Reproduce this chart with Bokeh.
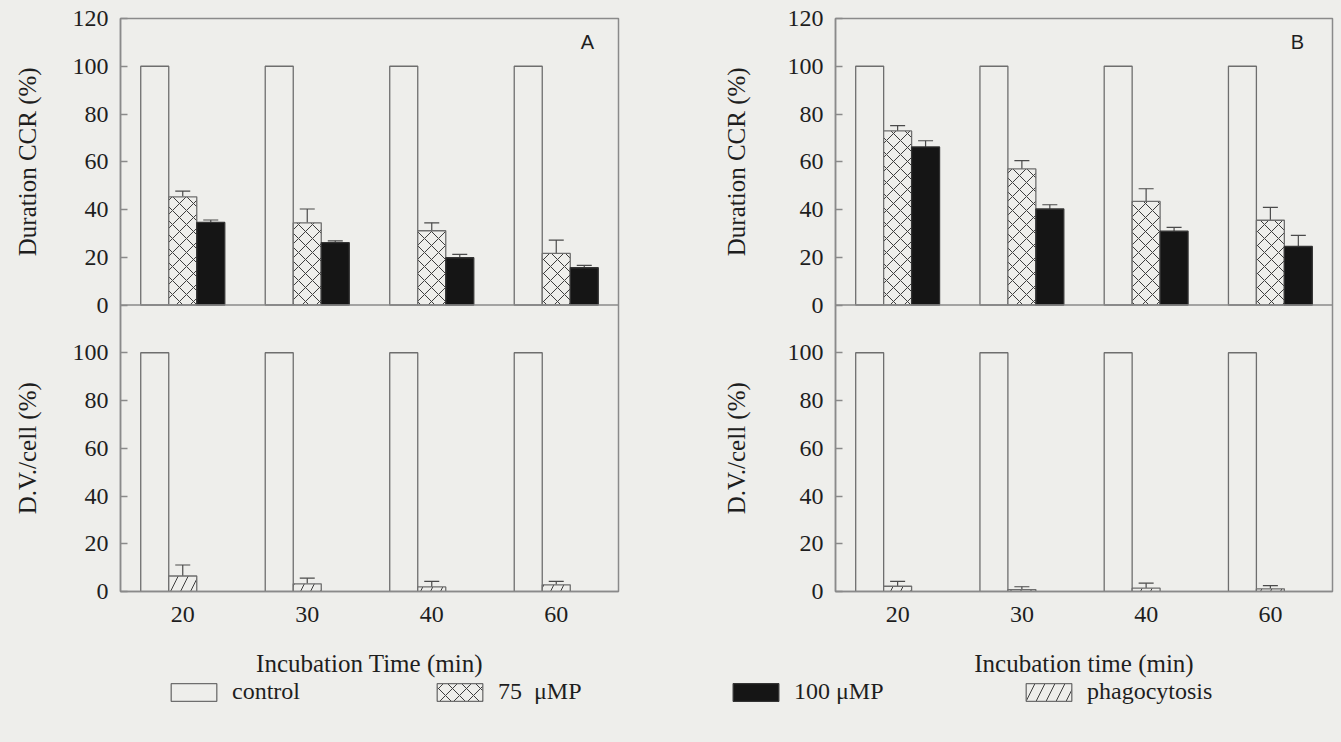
import math
from bokeh.plotting import figure
from bokeh.layouts import row, column
from bokeh.models import (FactorRange, Range1d, ColumnDataSource, Whisker, TeeHead,
                          Label, FixedTicker, Legend, LegendItem, Span)
from bokeh.transform import dodge
from bokeh.embed import file_html
from bokeh.resources import INLINE

# ---------------- data ----------------
times = ["20", "30", "40", "60"]
y_tick_values = [0, 20, 40, 60, 80, 100, 120]

# Panel A (Duration CCR, %)
a_control = [100, 100, 100, 100]
a_mp75 = [45.3, 34.4, 31.1, 21.6]
a_mp75_err = [2.4, 5.8, 3.3, 5.6]
a_mp100 = [34.6, 26.1, 19.8, 15.6]
a_mp100_err = [1.0, 0.8, 1.4, 1.0]
# Panel A (D.V./cell, %)
a_dv_control = [100, 100, 100, 100]
a_phago = [6.5, 3.2, 1.9, 2.8]
a_phago_err = [4.6, 2.4, 2.3, 1.4]

# Panel B (Duration CCR, %)
b_control = [100, 100, 100, 100]
b_mp75 = [72.9, 57.0, 43.4, 35.5]
b_mp75_err = [2.2, 3.5, 5.3, 5.4]
b_mp100 = [66.2, 40.2, 30.9, 24.5]
b_mp100_err = [2.6, 1.8, 1.6, 4.7]
# Panel B (D.V./cell, %)
b_dv_control = [100, 100, 100, 100]
b_phago = [2.2, 0.8, 1.4, 1.1]
b_phago_err = [2.0, 1.2, 2.1, 1.4]

legend_labels = ["control", "75\u00a0\u00a0\u03bcMP", "100\u00a0\u03bcMP", "phagocytosis"]

# ---------------- style ----------------
BG = "#eeeeeb"
TXT = "#1e1e1e"
EDGE = "#8a8a8a"
BAR_EDGE = "#6e6e6e"
ERR = "#4a4a4a"
BLACK = "#151515"
SERIF = "Liberation Serif"
SANS = "Liberation Sans"
TICK_FS = "24px"
TITLE_FS = "25px"
BW = 0.225
MAIN_H = 679
TOP_B = 18
FRAME_H = 574

STY_CTRL = dict(fill_color=BG, line_color=BAR_EDGE, line_width=1.3)
STY_75 = dict(fill_color=BG, line_color=BAR_EDGE, line_width=1.3,
              hatch_pattern="x", hatch_scale=14, hatch_color="#3c3c3c", hatch_weight=1)
STY_100 = dict(fill_color=BLACK, line_color="#333333", line_width=1.3)
STY_PH = dict(fill_color=BG, line_color=BAR_EDGE, line_width=1.3,
              hatch_pattern="/", hatch_scale=20, hatch_color="#3c3c3c", hatch_weight=1)


def make_sources(ctrl, mp75, mp75_err, mp100, mp100_err, dv_ctrl, ph, ph_err):
    src_top = ColumnDataSource(dict(
        t=times, ctrl=ctrl, mp75=mp75,
        mp75_up=[v + e for v, e in zip(mp75, mp75_err)],
        mp100=mp100,
        mp100_up=[v + e for v, e in zip(mp100, mp100_err)]))
    src_bot = ColumnDataSource(dict(
        t=times, ctrl=dv_ctrl, ph=ph,
        ph_up=[v + e for v, e in zip(ph, ph_err)]))
    return src_top, src_bot


srcA_top, srcA_bot = make_sources(a_control, a_mp75, a_mp75_err, a_mp100, a_mp100_err,
                                  a_dv_control, a_phago, a_phago_err)
srcB_top, srcB_bot = make_sources(b_control, b_mp75, b_mp75_err, b_mp100, b_mp100_err,
                                  b_dv_control, b_phago, b_phago_err)


def add_err(p, src, base_off, low, up, rng):
    w = Whisker(base=dodge("t", base_off, range=p.x_range), lower=low, upper=up,
                source=src, y_range_name=rng, line_color=ERR, line_width=1.2,
                upper_head=TeeHead(size=15, line_color=ERR, line_width=1.2),
                lower_head=None)
    p.add_layout(w)


def make_main(width, bl, br, src_top, src_bot, letter, letter_x, xtitle):
    p = figure(width=width, height=MAIN_H, x_range=FactorRange(factors=times),
               y_range=Range1d(0, 240), output_backend="svg", toolbar_location=None,
               min_border_left=bl, min_border_right=br, min_border_top=TOP_B,
               min_border_bottom=MAIN_H - TOP_B - FRAME_H,
               background_fill_color=BG, border_fill_color=BG,
               outline_line_color=EDGE, outline_line_width=1.5, title=None)
    p.extra_y_ranges = {"top": Range1d(-120, 120)}
    p.xgrid.visible = False
    p.ygrid.visible = False

    # upper panel (Duration CCR)
    p.vbar(x=dodge("t", -BW, range=p.x_range), top="ctrl", bottom=0, width=BW,
           source=src_top, y_range_name="top", **STY_CTRL)
    p.vbar(x=dodge("t", 0, range=p.x_range), top="mp75", bottom=0, width=BW,
           source=src_top, y_range_name="top", **STY_75)
    p.vbar(x=dodge("t", BW, range=p.x_range), top="mp100", bottom=0, width=BW,
           source=src_top, y_range_name="top", **STY_100)
    add_err(p, src_top, 0, "mp75", "mp75_up", "top")
    add_err(p, src_top, BW, "mp100", "mp100_up", "top")

    # lower panel (D.V./cell)
    p.vbar(x=dodge("t", -BW, range=p.x_range), top="ctrl", bottom=0, width=BW,
           source=src_bot, **STY_CTRL)
    p.vbar(x=dodge("t", 0, range=p.x_range), top="ph", bottom=0, width=BW,
           source=src_bot, **STY_PH)
    add_err(p, src_bot, 0, "ph", "ph_up", "default")

    p.add_layout(Span(location=120, dimension="width", line_color=EDGE, line_width=1.5))

    # y axis: lower panel 0..100, upper panel 0..120 (shifted by 120)
    ticks = list(y_tick_values[:-1]) + [v + 120 for v in y_tick_values]
    ya = p.yaxis[0]
    ya.ticker = FixedTicker(ticks=ticks)
    ya.major_label_overrides = {v + 120: str(v) for v in y_tick_values}
    ya.major_tick_in = 7
    ya.major_tick_out = 0
    ya.minor_tick_in = 0
    ya.minor_tick_out = 0
    ya.axis_line_color = EDGE
    ya.axis_line_width = 1.5
    ya.major_tick_line_color = EDGE
    ya.major_tick_line_width = 1.3
    ya.major_label_standoff = 12
    ya.major_label_text_font = SERIF
    ya.major_label_text_font_size = TICK_FS
    ya.major_label_text_color = TXT

    xa = p.xaxis[0]
    xa.major_tick_in = 0
    xa.major_tick_out = 0
    xa.axis_line_color = EDGE
    xa.axis_line_width = 1.5
    xa.major_label_standoff = 15
    xa.major_label_text_font = SERIF
    xa.major_label_text_font_size = TICK_FS
    xa.major_label_text_color = TXT
    xa.axis_label = xtitle
    xa.axis_label_standoff = 25
    xa.axis_label_text_font = SERIF
    xa.axis_label_text_font_size = TITLE_FS
    xa.axis_label_text_font_style = "normal"
    xa.axis_label_text_color = TXT

    p.add_layout(Label(x=letter_x, y=550, x_units="screen", y_units="screen",
                       text=letter, text_align="center", text_baseline="middle",
                       text_font=SANS, text_font_size="20px", text_color=TXT))
    return p


def make_ytitles(width, xpos):
    f = figure(width=width, height=MAIN_H, x_range=Range1d(0, 1), y_range=Range1d(0, 240),
               output_backend="svg", toolbar_location=None, min_border_left=0,
               min_border_right=0, min_border_top=TOP_B,
               min_border_bottom=MAIN_H - TOP_B - FRAME_H,
               x_axis_location=None, y_axis_location=None, background_fill_color=BG,
               border_fill_color=BG, outline_line_color=None, title=None)
    for g in f.grid:
        g.visible = False
    for txt, yv in (("Duration CCR (%)", 180), ("D.V./cell (%)", 60)):
        f.add_layout(Label(x=xpos, y=yv, x_units="screen", y_units="data",
                           text=txt, angle=math.pi / 2, text_align="center",
                           text_baseline="middle", text_font=SERIF,
                           text_font_size=TITLE_FS, text_color=TXT))
    return f


left_t = make_ytitles(60, 27)
left = make_main(650, 60, 92, srcA_top, srcA_bot, "A", 467, "Incubation Time (min)")
right_t = make_ytitles(50, 26)
right = make_main(581, 75, 9, srcB_top, srcB_bot, "B", 462, "Incubation time (min)")

# ---------------- legend strip ----------------
# legend swatches reuse the panel data sources and styles; the renderers are
# hidden so only the legend entries show in this strip.
lf = figure(width=1341, height=63, x_range=FactorRange(factors=times),
            y_range=Range1d(0, 1), output_backend="svg", toolbar_location=None,
            min_border=0, x_axis_location=None, y_axis_location=None,
            background_fill_color=BG, border_fill_color=BG, outline_line_color=None,
            title=None)
for g in lf.grid:
    g.visible = False
leg_specs = [(srcA_top, "ctrl", STY_CTRL), (srcA_top, "mp75", STY_75),
             (srcA_top, "mp100", STY_100), (srcA_bot, "ph", STY_PH)]
legend_x = [165, 431, 727, 1020]
for lab, (src, col, sty), lx in zip(legend_labels, leg_specs, legend_x):
    r = lf.vbar(x="t", top=col, bottom=0, width=BW, source=src, visible=False, **sty)
    leg = Legend(items=[LegendItem(label=lab, renderers=[r])], location=(lx, 37),
                 orientation="horizontal", glyph_width=57, glyph_height=22,
                 label_standoff=10, padding=0, margin=0, border_line_alpha=0,
                 background_fill_alpha=0, label_text_font=SERIF,
                 label_text_font_size="24px", label_text_color=TXT,
                 click_policy="none")
    lf.add_layout(leg)

layout = column(row(left_t, left, right_t, right, spacing=0,
                    styles={"background-color": BG}),
                lf, spacing=0, styles={"background-color": BG})
open("out.html", "w").write(file_html(layout, INLINE))
